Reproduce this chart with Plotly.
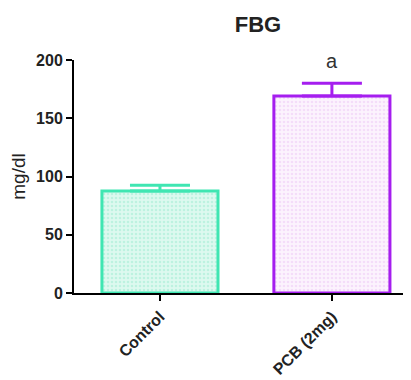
import plotly.graph_objects as go

categories = ["Control", "PCB (2mg)"]
values = [87.5, 169]
errors = [5, 11]
annot = ["", "a"]
border_colors = ["#3FE6B2", "#A51EEF"]
fill_bg = ["#DDF9EF", "#FCF3FD"]
dot_colors = ["#9EEBD2", "#EBC8F5"]

fig = go.Figure()
for i, c in enumerate(categories):
    fig.add_trace(go.Bar(
        x=[c], y=[values[i]], width=0.675,
        marker=dict(color=fill_bg[i], line=dict(color=border_colors[i], width=3),
                    pattern=dict(shape=".", fgcolor=dot_colors[i], bgcolor=fill_bg[i], size=4, solidity=0.35)),
        error_y=dict(type="data", symmetric=False, array=[errors[i]], arrayminus=[0],
                     color=border_colors[i], thickness=3, width=30),
        showlegend=False,
    ))
    if annot[i]:
        fig.add_annotation(x=c, y=values[i] + errors[i], text=annot[i], showarrow=False,
                           yshift=22, font=dict(size=20, color="#333", family="Liberation Sans"))

# the page body has an 8px margin, so margins are offset by 8px
fig.update_layout(
    width=411, height=380,
    margin=dict(l=66, r=8, t=52, b=95, autoexpand=False),
    plot_bgcolor="white", paper_bgcolor="white",
    title=dict(text="<b>FBG</b>", x=0.546, xref="paper", xanchor="center", y=0.958, yanchor="middle",
               font=dict(size=22, color="#222", family="Liberation Sans")),
)
fig.update_xaxes(range=[-0.5, 1.46], showline=True, linecolor="black", linewidth=2, automargin=False,
                 ticks="outside", ticklen=6, tickwidth=2, tickcolor="black", tickangle=-45,
                 tickfont=dict(size=16, color="#222", family="Liberation Sans", weight="bold"),
                 showgrid=False, fixedrange=True)
fig.update_yaxes(range=[0, 200], tickvals=[0, 50, 100, 150, 200], showline=True, linecolor="black",
                 linewidth=2, ticks="outside", ticklen=6, tickwidth=2, tickcolor="black", automargin=False,
                 tickfont=dict(size=16, color="#222", family="Liberation Sans", weight="bold"),
                 title=dict(text="mg/dl", font=dict(size=19, color="#222", family="Liberation Sans"), standoff=6),
                 showgrid=False, zeroline=False)

fig.write_html("out.html")
